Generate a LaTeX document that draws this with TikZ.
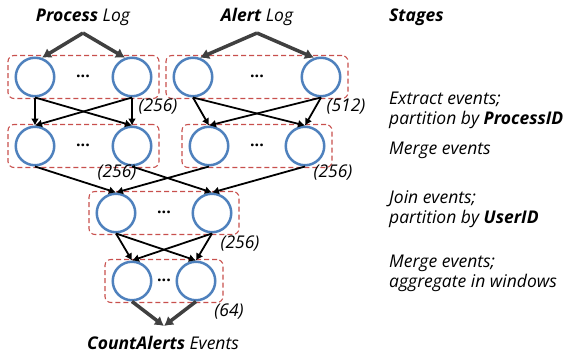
\documentclass[tikz,border=0pt]{standalone}
\usepackage{fontspec}
\setmainfont{Open Sans}
\usetikzlibrary{arrows.meta,fit}
\definecolor{opblue}{RGB}{79,129,189}
\definecolor{grpred}{RGB}{200,80,77}
\definecolor{feedgray}{RGB}{64,64,64}

\begin{document}
\begin{tikzpicture}[x=1pt,y=-1pt,font=\fontsize{17.5}{20}\selectfont\itshape,
  op/.style={circle,draw=opblue,line width=2.5pt,minimum size=38.5pt,inner sep=0pt},
  grp/.style={draw=grpred,line width=1.1pt,dash pattern=on 5pt off 3pt,rounded corners=6pt,inner xsep=6.5pt,inner ysep=1pt},
  flow/.style={line width=1.8pt,-{Latex[length=7pt,width=8pt]}},
  feed/.style={feedgray,line width=3.5pt,-{Latex[length=9pt,width=11pt]}},
  dop/.style={font=\fontsize{16}{16}\selectfont\bfseries\upshape},
  stage/.style={anchor=west,align=left,inner sep=0pt}]
\useasboundingbox (0,0) rectangle (574,356);
\node (plog) at (83,17) {\textbf{Process} Log};
\node (alog) at (257,17) {\textbf{Alert} Log};
\node (cnt) at (163,343) {\textbf{CountAlerts} Events};
\coordinate (psrc) at (83,33);
\coordinate (asrc) at (257,33);
\coordinate (sink) at (164,326);
\node[op] (xp1) at (35,77) {};
\node[op] (xp2) at (132,77) {};
\node[op] (xa1) at (193,77) {};
\node[op] (xa2) at (321,77) {};
\node[op] (mp1) at (35,146) {};
\node[op] (mp2) at (132,146) {};
\node[op] (ma1) at (209,146) {};
\node[op] (ma2) at (305,146) {};
\node[op] (j1) at (116,213) {};
\node[op] (j2) at (212,213) {};
\node[op] (g1) at (132,281) {};
\node[op] (g2) at (196,281) {};
\node[dop] (dxp) at (83,76) {...};
\node[dop] (dxa) at (257,76) {...};
\node[dop] (dmp) at (83,145) {...};
\node[dop] (dma) at (257,145) {...};
\node[dop] (dj) at (164,212) {...};
\node[dop] (dg) at (164,280) {...};
\node[grp,fit=(xp1)(xp2)] (xpgrp) {};
\node[grp,fit=(xa1)(xa2)] (xagrp) {};
\node[grp,fit=(mp1)(mp2)] (mpgrp) {};
\node[grp,fit=(ma1)(ma2)] (magrp) {};
\node[grp,fit=(j1)(j2)] (jgrp) {};
\node[grp,fit=(g1)(g2)] (ggrp) {};
\node (nxp) at (158,107) {(256)};
\node (nxa) at (346,107) {(512)};
\node (nmp) at (117,173) {(256)};
\node (nma) at (333,173) {(256)};
\node (nj) at (240,244) {(256)};
\node (ng) at (229,312) {(64)};
\node[stage] (stages) at (389,17) {\textbf{Stages}};
\node[stage] (sx) at (389,110) {Extract events;\\partition by \textbf{ProcessID}};
\node[stage] (sm) at (389,150) {Merge events};
\node[stage] (sj) at (389,209) {Join events;\\partition by \textbf{UserID}};
\node[stage] (sg) at (389,273) {Merge events;\\aggregate in windows};
\draw[feed] (psrc) -- (xp1.70);
\draw[feed] (psrc) -- (xp2.110);
\draw[feed] (asrc) -- (xa1.70);
\draw[feed] (asrc) -- (xa2.110);
\draw[flow] (xp1.south) -- (mp1.north);
\draw[flow] (xp1.south) -- (mp2.north);
\draw[flow] (xp2.south) -- (mp2.north);
\draw[flow] (xp2.south) -- (mp1.north);
\draw[flow] (xa1.south) -- (ma1.north);
\draw[flow] (xa1.south) -- (ma2.north);
\draw[flow] (xa2.south) -- (ma2.north);
\draw[flow] (xa2.south) -- (ma1.north);
\draw[flow] (mp1.south) -- (j1.north);
\draw[flow] (mp2.south) -- (j2.north);
\draw[flow] (ma1.south) -- (j1.north);
\draw[flow] (ma2.south) -- (j2.north);
\draw[flow] (j1.south) -- (g1.north);
\draw[flow] (j1.south) -- (g2.north);
\draw[flow] (j2.south) -- (g2.north);
\draw[flow] (j2.south) -- (g1.north);
\draw[feed] (g1.south) -- (sink);
\draw[feed] (g2.south) -- (sink);
\end{tikzpicture}
\end{document}
